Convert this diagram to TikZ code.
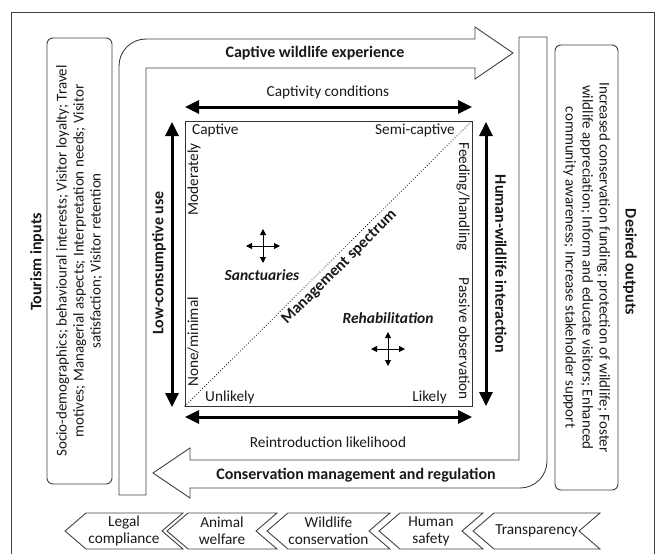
\documentclass[tikz,border=0pt]{standalone}
\usepackage{fontspec}
\setmainfont{Carlito}
\usetikzlibrary{arrows.meta}
\begin{document}
\begin{tikzpicture}[x=1pt,y=-1pt,
  every node/.style={inner sep=0pt, text=black!90},
  txt/.style={font=\fontsize{15.3}{17}\selectfont},
  boxtxt/.style={font=\fontsize{15}{17}\selectfont},
  btxt/.style={font=\fontsize{16}{18}\selectfont\bfseries},
  bitxt/.style={font=\fontsize{15.5}{18}\selectfont\bfseries\itshape},
  outline/.style={draw=black!75, line width=0.9pt},
  dbl/.style={line width=3pt, {Triangle[length=14pt,width=13pt]}-{Triangle[length=14pt,width=13pt]}},
  cross/.style={line width=1pt, {Triangle[length=6pt,width=6pt]}-{Triangle[length=6pt,width=6pt]}},
  chev/.style={draw=black!75, line width=0.9pt},
]
\useasboundingbox (0,0) rectangle (657,554);
% frame
\draw[outline] (11,554) -- (11,12) -- (654,12) -- (654,554);

% side boxes
\node[outline, rounded corners=6pt, rotate=90, minimum width=446pt, minimum height=65pt, align=center, boxtxt] (inbox) at (79.5,261)
  {Socio-demographics; behavioural interests; Visitor loyalty; Travel\\motives; Managerial aspects; Interpretation needs; Visitor\\satisfaction; Visitor retention};
\node[btxt, rotate=90] (intitle) at (37,262) {Tourism inputs};
\node[outline, rounded corners=6pt, rotate=-90, minimum width=445pt, minimum height=63pt, align=center, boxtxt] (outbox) at (586.5,267.5)
  {Increased conservation funding; protection of wildlife; Foster\\wildlife appreciation; Inform and educate visitors; Enhanced\\community awareness; Increase stakeholder support};
\node[btxt, rotate=-90] (outtitle) at (630,262) {Desired outputs};

% cycle band
\draw[outline] (146,495) -- (119,495) -- (119,66) .. controls (119,51) and (131,39) .. (146,39)
  -- (475,39) -- (475,27) -- (513,53) -- (475,79) -- (475,68) -- (146,68) -- cycle;
\node[btxt] (exp) at (315,53) {Captive wildlife experience};
\draw[outline] (519,460) -- (519,37) -- (547,37) -- (547,461) .. controls (547,476) and (535,488) .. (520,488)
  -- (190,488) -- (190,498) -- (153,473) -- (190,448) -- (190,460) -- cycle;
\node[btxt] (cons) at (356,475) {Conservation management and regulation};

% central square
\node[draw=black!80, line width=0.9pt, minimum width=287pt, minimum height=285pt] (sq) at (328.5,263.5) {};
\draw[line width=0.8pt, dash pattern=on 0.8pt off 2pt] (sq.south west) -- (sq.north east);
\node[btxt, rotate=44.8] (spec) at (339.5,267.5) {Management spectrum};

\node[txt, anchor=base west] (captive) at (192,134) {Captive};
\node[txt, anchor=base east] (semi) at (455,134) {Semi-captive};
\node[txt, anchor=base west] (unlikely) at (205,401) {Unlikely};
\node[txt, anchor=base east] (likely) at (447,401) {Likely};
\node[txt, anchor=base east, rotate=90] (moder) at (198,143) {Moderately};
\node[txt, anchor=base west, rotate=90] (none) at (198,387) {None/minimal};
\node[txt, anchor=base west, rotate=-90] (feed) at (459,142) {Feeding/handling};
\node[txt, anchor=base east, rotate=-90] (passive) at (459,400) {Passive observation};

\node[bitxt] (sanct) at (262,275) {Sanctuaries};
\node[bitxt] (rehab) at (388,318) {Rehabilitation};
\coordinate (c1) at (263,246);
\coordinate (c2) at (388,349);
\draw[cross] ([xshift=-17pt]c1) -- ([xshift=17pt]c1);
\draw[cross] ([yshift=-17pt]c1) -- ([yshift=17pt]c1);
\draw[cross] ([xshift=-17pt]c2) -- ([xshift=17pt]c2);
\draw[cross] ([yshift=-17pt]c2) -- ([yshift=17pt]c2);

% axis arrows
\coordinate (ccl) at (185,107); \coordinate (ccr) at (472,107);
\draw[dbl] (ccl) -- (ccr);
\node[txt] (capcond) at (328,92) {Captivity conditions};
\coordinate (ril) at (185,417); \coordinate (rir) at (472,417);
\draw[dbl] (ril) -- (rir);
\node[txt] (reint) at (328,442) {Reintroduction likelihood};
\coordinate (lct) at (172,122); \coordinate (lcb) at (172,407);
\draw[dbl] (lct) -- (lcb);
\node[btxt, rotate=90] (lowc) at (159,263) {Low-consumptive use};
\coordinate (hwt) at (486,122); \coordinate (hwb) at (486,406);
\draw[dbl] (hwt) -- (hwb);
\node[btxt, rotate=-90] (hwi) at (501,264) {Human-wildlife interaction};

% chevrons
\foreach \L/\R/\nm/\t [count=\i] in {65/183/legal/{Legal\\compliance}, 167/277/animal/{Animal\\welfare}, 267/390/wild/{Wildlife\\conservation}, 379/483/human/{Human\\safety}, 473/600/transp/{Transparency}}{
  \draw[chev] (\L,531) -- (\L+21,513) -- (\R,513) -- (\R-21,531) -- (\R,549) -- (\L+21,549) -- cycle;
  \node[txt, align=center] (\nm) at ({(\L+\R)/2},531) {\t};
}
\end{tikzpicture}
\end{document}
